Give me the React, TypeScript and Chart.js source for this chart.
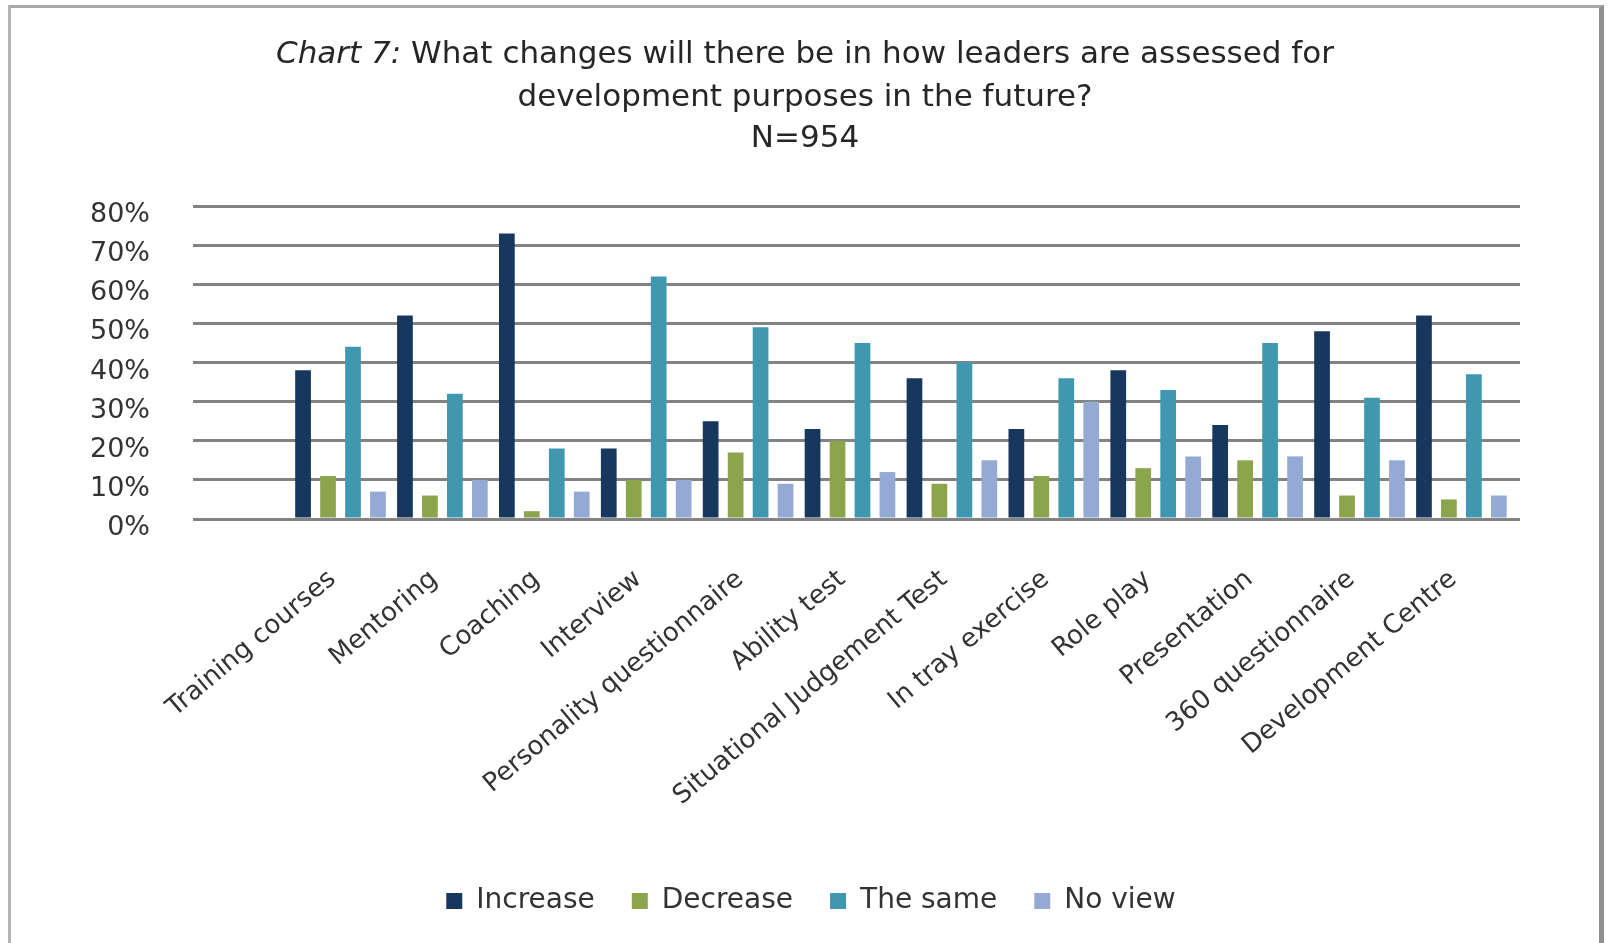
import React, { useEffect, useRef } from 'react';
import { Chart, registerables } from 'chart.js';

Chart.register(...registerables);

const categories = [
  'Training courses',
  'Mentoring',
  'Coaching',
  'Interview',
  'Personality questionnaire',
  'Ability test',
  'Situational Judgement Test',
  'In tray exercise',
  'Role play',
  'Presentation',
  '360 questionnaire',
  'Development Centre',
];

const increase = [38, 52, 73, 18, 25, 23, 36, 23, 38, 24, 48, 52];
const decrease = [11, 6, 2, 10, 17, 20, 9, 11, 13, 15, 6, 5];
const theSame = [44, 32, 18, 62, 49, 45, 40, 36, 33, 45, 31, 37];
const noView = [7, 10, 7, 10, 9, 12, 15, 30, 16, 16, 15, 6];

const seriesNames = ['Increase', 'Decrease', 'The same', 'No view'];
const seriesColors = ['#17375E', '#8BA54C', '#3F98AF', '#94AAD5'];

const yMin = 0;
const yMax = 80;
const yStep = 10;

const titlePrefix = 'Chart 7:';
const titleRest = ' What changes will there be in how leaders are assessed for';
const titleLine2 = 'development purposes in the future?';
const titleLine3 = 'N=954';

const FONT = '"DejaVu Sans", sans-serif';
const TITLE_SIZE = 31;

const titlePlugin = {
  id: 'customTitle',
  afterDraw(chart: any) {
    const ctx = chart.ctx;
    ctx.save();
    ctx.fillStyle = '#262626';
    ctx.textBaseline = 'middle';
    const cx = chart.width / 2;
    const italicFont = `italic ${TITLE_SIZE}px ${FONT}`;
    const normalFont = `${TITLE_SIZE}px ${FONT}`;
    ctx.font = italicFont;
    const w1 = ctx.measureText(titlePrefix).width;
    ctx.font = normalFont;
    const w2 = ctx.measureText(titleRest).width;
    const x0 = cx - (w1 + w2) / 2;
    ctx.textAlign = 'left';
    ctx.font = italicFont;
    ctx.fillText(titlePrefix, x0, 47);
    ctx.font = normalFont;
    ctx.fillText(titleRest, x0 + w1, 47);
    ctx.textAlign = 'center';
    ctx.fillText(titleLine2, cx, 89.5);
    ctx.fillText(titleLine3, cx, 131);
    ctx.restore();
  },
};

export default function App() {
  const canvasRef = useRef<HTMLCanvasElement | null>(null);

  useEffect(() => {
    if (!canvasRef.current) return;
    const seriesValues = [increase, decrease, theSame, noView];
    const chart = new Chart(canvasRef.current, {
      type: 'bar',
      data: {
        datasets: seriesValues.map((vals, si) => ({
          label: seriesNames[si],
          data: vals.map((v, i) => ({ x: i, y: v })),
          backgroundColor: seriesColors[si],
          borderWidth: 0,
          categoryPercentage: 0.98,
          barPercentage: 0.63,
        })),
      },
      options: {
        responsive: false,
        animation: false,
        layout: { padding: { top: 198, left: 12, right: 0, bottom: 18 } },
        plugins: {
          title: { display: false },
          tooltip: { enabled: false },
          legend: {
            position: 'bottom',
            labels: {
              boxWidth: 16,
              boxHeight: 16,
              padding: 37,
              color: '#333333',
              font: { family: FONT, size: 28 },
            },
          },
        },
        scales: {
          x: {
            type: 'linear',
            min: -1.4475,
            max: 11.575,
            offset: false,
            grid: { display: false, drawTicks: false },
            border: { display: false },
            ticks: {
              stepSize: 1,
              includeBounds: false,
              autoSkip: false,
              minRotation: 40,
              maxRotation: 40,
              padding: 45,
              labelOffset: -8,
              color: '#333333',
              font: { family: FONT, size: 26 },
              callback: (v: any) =>
                Number.isInteger(v) && v >= 0 && v < categories.length ? categories[v] : '',
            },
            afterFit: (s: any) => {
              s.height = 331;
            },
          },
          y: {
            type: 'linear',
            position: 'left',
            min: yMin,
            max: yMax,
            grid: { color: '#838383', lineWidth: 3, drawTicks: false },
            border: { display: false },
            ticks: {
              stepSize: yStep,
              padding: 43,
              labelOffset: 9,
              color: '#333333',
              font: { family: FONT, size: 27 },
              callback: (v: any) => `${v}%`,
            },
            afterFit: (s: any) => {
              s.width = 170;
            },
          },
          yRight: {
            type: 'linear',
            position: 'right',
            display: true,
            grid: { display: false, drawTicks: false },
            border: { display: false },
            ticks: { display: false },
            afterFit: (s: any) => {
              s.width = 79;
            },
          },
        },
      },
      plugins: [titlePlugin],
    } as any);
    return () => chart.destroy();
  }, []);

  return (
    <div
      style={{
        position: 'fixed',
        left: 8,
        top: 5,
        width: 1596,
        height: 938,
        boxSizing: 'border-box',
        borderTop: '3px solid #a8a8a8',
        borderLeft: '3px solid #b4b4b4',
        borderRight: '5px solid #8f8f8f',
        background: '#ffffff',
        overflow: 'hidden',
      }}
    >
      <canvas ref={canvasRef} width={1588} height={935} style={{ display: 'block' }} />
    </div>
  );
}
